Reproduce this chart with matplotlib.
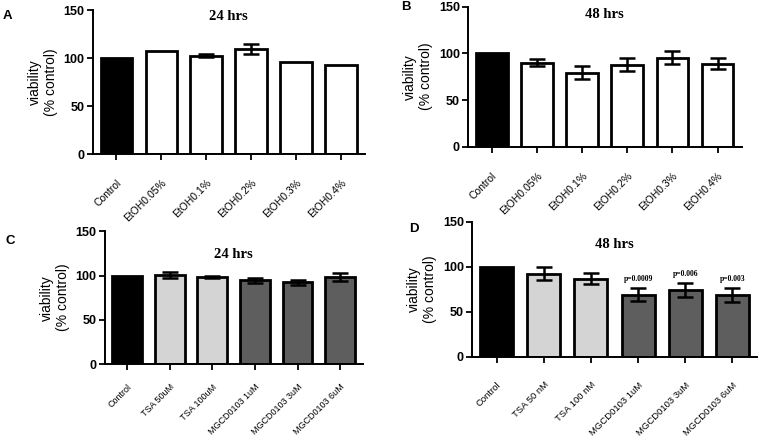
import numpy as np
import matplotlib
matplotlib.use('Agg')
import matplotlib.pyplot as plt

plt.rcParams['font.family'] = ['Liberation Sans', 'DejaVu Sans']

# panel A / B : ethanol vehicle
etoh_labels = ['Control', 'EtOH0.05%', 'EtOH0.1%', 'EtOH0.2%', 'EtOH0.3%', 'EtOH0.4%']
a_mean = [100, 108, 102.5, 109.5, 96, 92.5]
a_err = [0, 0, 1.5, 5, 0, 0]
b_mean = [100, 90, 79, 88, 95.5, 89]
b_err = [0, 3.5, 7, 7, 6.5, 6]

# panel C / D : TSA and MGCD0103
c_labels = ['Control', 'TSA 50uM', 'TSA 100uM', 'MGCD0103 1uM', 'MGCD0103 3uM', 'MGCD0103 6uM']
c_mean = [100, 101, 98.5, 94.5, 92.5, 98]
c_err = [0, 3.5, 1, 2.5, 3, 4.5]
d_labels = ['Control', 'TSA 50 nM', 'TSA 100 nM', 'MGCD0103 1uM', 'MGCD0103 3uM', 'MGCD0103 6uM']
d_mean = [100, 92.5, 87, 69, 74, 68.5]
d_err = [0, 7, 6.5, 7, 8, 8]
d_pvals = ['', '', '', 'p=0.0009', 'p=0.006', 'p=0.003']
d_pval_y = [0, 0, 0, 87, 92, 87]

yticks = [0, 50, 100, 150]

col_etoh = ['black'] + ['white'] * 5
col_drug = ['black', '#d4d4d4', '#d4d4d4', '#5e5e5e', '#5e5e5e', '#5e5e5e']


def panel(rect, labels, mean, err, colors, title, title_y, letter, letter_xy,
          lab_size, lab_pad):
    ax = fig.add_axes(rect)
    x = np.arange(len(mean))
    ax.bar(x, mean, width=0.7, color=colors, edgecolor='black', linewidth=2.0, zorder=2)
    err = np.array(err, dtype=float)
    m = err > 0
    ax.errorbar(x[m], np.array(mean)[m], yerr=err[m], fmt='none', ecolor='black',
                elinewidth=1.8, capsize=6, capthick=1.8, zorder=3)
    ax.set_ylim(0, 150)
    ax.set_xlim(-0.52, 5.53)
    ax.set_yticks(yticks)
    ax.set_yticklabels([str(t) for t in yticks], fontweight='bold', fontsize=9)
    ax.set_xticks(x)
    ax.set_xticklabels(labels, rotation=45, ha='right', rotation_mode='anchor',
                       fontsize=lab_size)
    ax.tick_params(axis='x', length=4, width=1.3, pad=lab_pad)
    ax.tick_params(axis='y', length=4, width=1.3, pad=2)
    for s in ['top', 'right']:
        ax.spines[s].set_visible(False)
    for s in ['left', 'bottom']:
        ax.spines[s].set_linewidth(1.4)
    ax.set_ylabel('viability\n(% control)', fontsize=10, labelpad=4)
    ax.text(2.5, title_y, title, ha='center', va='center', fontsize=10.5,
            fontweight='bold', family='Liberation Serif')
    fig.text(letter_xy[0] / 759, 1 - letter_xy[1] / 442, letter, fontsize=9.5,
             fontweight='bold', ha='center', va='center')
    return ax


fig = plt.figure(figsize=(7.59, 4.42), dpi=100)

panel([0.1225, 0.651, 0.358, 0.326], etoh_labels, a_mean, a_err, col_etoh,
      '24 hrs', 143, 'A', (7, 16), 7.5, 13)
panel([0.617, 0.668, 0.360, 0.317], etoh_labels, b_mean, b_err, col_etoh,
      '48 hrs', 142, 'B', (406, 7), 7.5, 13)
panel([0.138, 0.176, 0.340, 0.301], c_labels, c_mean, c_err, col_drug,
      '24 hrs', 124, 'C', (10, 241), 6.5, 9)
axd = panel([0.622, 0.193, 0.376, 0.305], d_labels, d_mean, d_err, col_drug,
            '48 hrs', 125, 'D', (414, 229), 6.8, 13)
for i, (t, yv) in enumerate(zip(d_pvals, d_pval_y)):
    if t:
        axd.text(i, yv, t, ha='center', va='center', fontsize=5.5,
                 fontweight='bold', family='Liberation Serif')

fig.savefig('out.png', dpi=100)
